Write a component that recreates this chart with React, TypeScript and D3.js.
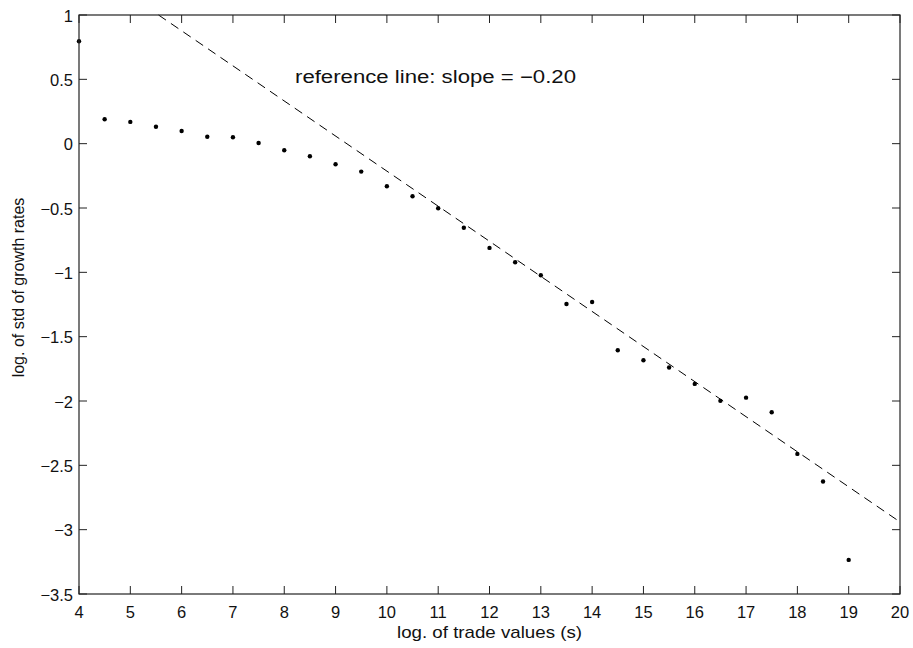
import React from 'react';
import * as d3 from 'd3';

// log size vs log std of growth, with a dashed reference line
const xValues = [4, 4.5, 5, 5.5, 6, 6.5, 7, 7.5, 8, 8.5, 9, 9.5, 10, 10.5, 11, 11.5, 12, 12.5, 13, 13.5, 14, 14.5, 15, 15.5, 16, 16.5, 17, 17.5, 18, 18.5, 19]
const yValues = [0.796, 0.19, 0.169, 0.132, 0.099, 0.054, 0.05, 0.005, -0.051, -0.098, -0.16, -0.217, -0.331, -0.409, -0.502, -0.653, -0.81, -0.922, -1.023, -1.246, -1.23, -1.605, -1.683, -1.74, -1.867, -1.999, -1.974, -2.087, -2.411, -2.626, -3.235]

const refLineX = [5.55, 20]
const refLineY = [1, -2.94]

const xTicks = [4, 5, 6, 7, 8, 9, 10, 11, 12, 13, 14, 15, 16, 17, 18, 19, 20]
const yTicks = [1, 0.5, 0, -0.5, -1, -1.5, -2, -2.5, -3, -3.5]

const width = 913
const height = 648
const margin = { top: 15, right: 13, bottom: 54, left: 79 }

export default function App() {
  const x = d3.scaleLinear().domain([4, 20]).range([margin.left, width - margin.right])
  const y = d3.scaleLinear().domain([-3.5, 1]).range([height - margin.bottom, margin.top])

  const fmt = (v: number) => String(v).replace('-', '\u2212')
  const tick = 8
  const font = '"Liberation Sans", Arial, Helvetica, sans-serif'

  const line = d3.line<number>()
    .x(d => x(refLineX[d]))
    .y(d => y(refLineY[d]))

  const [x0, x1] = x.range()
  const [y0, y1] = y.range()

  return (
    <svg width={width} height={height} style={{ position: 'absolute', left: 0, top: 0, background: '#fff' }}
      fontFamily={font} fill="#111">
      <path d={line([0, 1]) || ''} fill="none" stroke="#000" strokeWidth={1} strokeDasharray="9,6" />

      {xValues.map((v, i) => (
        <circle key={i} cx={x(v)} cy={y(yValues[i])} r={2.2} fill="#000" />
      ))}

      {/* box */}
      <rect x={x0} y={y1} width={x1 - x0} height={y0 - y1} fill="none" stroke="#222" strokeWidth={1.2} />

      {xTicks.map(t => (
        <g key={'x' + t}>
          <line x1={x(t)} x2={x(t)} y1={y0} y2={y0 - tick} stroke="#222" />
          <line x1={x(t)} x2={x(t)} y1={y1} y2={y1 + tick} stroke="#222" />
          <text x={x(t)} y={y0 + 24} textAnchor="middle" fontSize={16.5}>{t}</text>
        </g>
      ))}

      {yTicks.map(t => (
        <g key={'y' + t}>
          <line x1={x0} x2={x0 + tick} y1={y(t)} y2={y(t)} stroke="#222" />
          <line x1={x1} x2={x1 - tick} y1={y(t)} y2={y(t)} stroke="#222" />
          <text x={x0 - 6} y={y(t) + 6.5} textAnchor="end" fontSize={16.5}>{fmt(t)}</text>
        </g>
      ))}

      <text x={(x0 + x1) / 2} y={y0 + 44} textAnchor="middle" fontSize={17}
        textLength={185} lengthAdjust="spacingAndGlyphs">log. of trade values (s)</text>
      <text transform={`translate(24,${(y0 + y1) / 2 - 17}) rotate(-90)`} textAnchor="middle" fontSize={16}>
        log. of std of growth rates
      </text>
      <text x={295} y={83} fontSize={18} textLength={281} lengthAdjust="spacingAndGlyphs">
        reference line: slope = {'\u2212'}0.20
      </text>
    </svg>
  )
}
